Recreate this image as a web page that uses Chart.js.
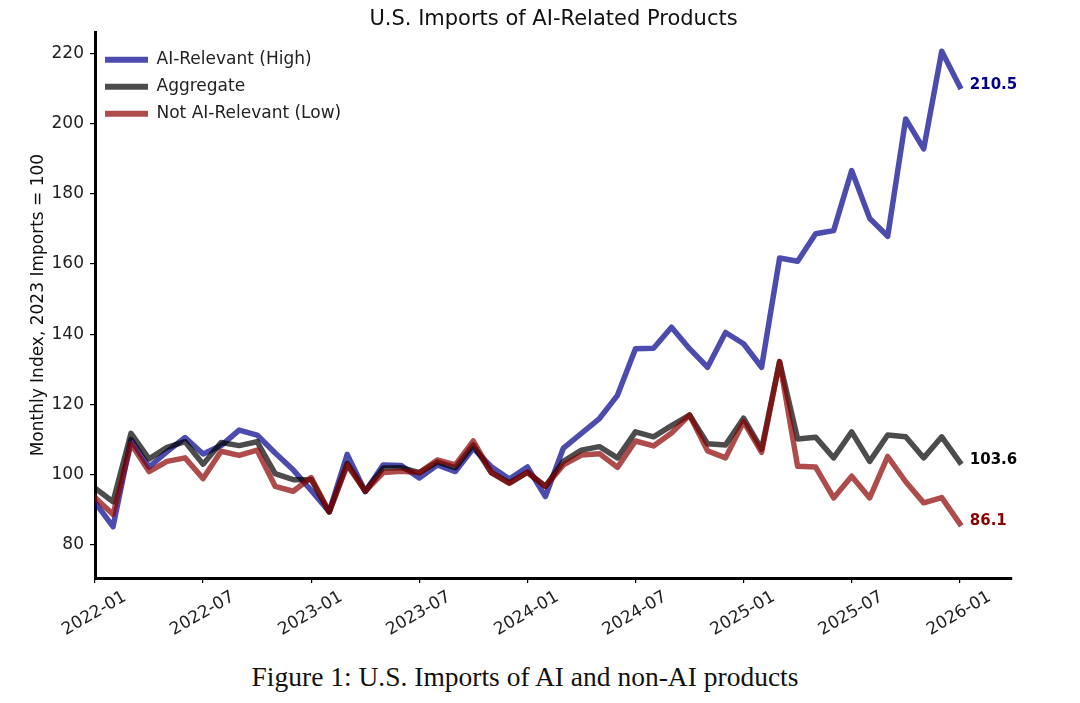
<!DOCTYPE html>
<html>
<head>
<meta charset="utf-8">
<title>U.S. Imports of AI-Related Products</title>
<script src="https://cdn.jsdelivr.net/npm/chart.js@4.4.1/dist/chart.umd.min.js"></script>
<style>
  html, body { margin: 0; padding: 0; background: #fff; }
  #wrap { position: relative; width: 1080px; height: 703px; overflow: hidden; }
  #chartBox { position: absolute; left: 0; top: 0; width: 1080px; height: 650px; }
  #caption {
    position: absolute; left: 0; top: 661px; width: 1050px;
    text-align: center; font-family: "Liberation Serif", serif;
    font-size: 27.5px; line-height: 32px; color: #111;
  }
</style>
</head>
<body>
<div id="wrap">
  <div id="chartBox"><canvas id="importsChart"></canvas></div>
  <div id="caption">Figure 1: U.S. Imports of AI and non-AI products</div>
</div>
<script>
// Monthly index, 2023 imports = 100
const months = [
    '2022-01', '2022-02', '2022-03', '2022-04', '2022-05', '2022-06', '2022-07', '2022-08', '2022-09', '2022-10', '2022-11', '2022-12',
    '2023-01', '2023-02', '2023-03', '2023-04', '2023-05', '2023-06', '2023-07', '2023-08', '2023-09', '2023-10', '2023-11', '2023-12',
    '2024-01', '2024-02', '2024-03', '2024-04', '2024-05', '2024-06', '2024-07', '2024-08', '2024-09', '2024-10', '2024-11', '2024-12',
    '2025-01', '2025-02', '2025-03', '2025-04', '2025-05', '2025-06', '2025-07', '2025-08', '2025-09', '2025-10', '2025-11', '2025-12',
    '2026-01'
];

const aiHigh = [
    92.1, 85.2, 110.0, 102.2, 106.6, 110.6, 105.9, 108.3, 112.7, 111.3, 106.2, 101.4,
    95.5, 89.5, 105.8, 95.2, 102.8, 102.6, 99.1, 102.8, 100.9, 107.5, 102.3, 98.8,
    102.2, 93.8, 107.6, 111.8, 116.0, 122.6, 135.9, 136.0, 142.0, 135.9, 130.6, 140.5,
    137.3, 130.6, 161.7, 160.8, 168.6, 169.5, 186.6, 173.0, 167.9, 201.3, 192.8, 220.6,
    210.5
];

const aggregate = [
    96.2, 92.3, 111.8, 104.5, 107.8, 109.4, 103.0, 109.2, 108.3, 109.4, 100.3, 98.6,
    98.6, 89.4, 103.2, 95.3, 101.9, 102.0, 100.6, 103.6, 102.0, 108.5, 100.6, 97.7,
    100.7, 96.7, 103.8, 107.0, 108.0, 104.8, 112.2, 110.8, 114.0, 117.0, 108.8, 108.5,
    116.1, 107.3, 132.2, 110.2, 110.7, 104.8, 112.2, 103.8, 111.3, 110.8, 104.8, 110.8,
    103.6
];

const notAiLow = [
    93.5, 88.7, 108.8, 100.9, 103.8, 104.8, 98.9, 106.7, 105.5, 107.0, 96.7, 95.3,
    99.2, 89.4, 102.8, 95.3, 100.6, 101.0, 100.6, 104.2, 102.8, 109.6, 100.6, 97.5,
    100.7, 96.7, 102.8, 105.6, 106.0, 102.1, 109.6, 108.2, 111.9, 117.0, 106.8, 104.8,
    115.1, 106.4, 132.2, 102.4, 102.2, 93.4, 99.6, 93.4, 105.2, 98.0, 92.0, 93.5,
    86.1
];

const tickLabels = ['2022-01', '2022-07', '2023-01', '2023-07', '2024-01', '2024-07', '2025-01', '2025-07', '2026-01'];
const yTicks = [80, 100, 120, 140, 160, 180, 200, 220];

function toPoints(values) {
    return values.map(function(v, i) { return { x: i, y: v }; });
}

// Value printed at the end of each line
const endLabels = {
    id: 'endLabels',
    afterDatasetsDraw: function(chart) {
        const ctx = chart.ctx;
        const x = chart.scales.x;
        const y = chart.scales.y;
        ctx.save();
        ctx.font = 'bold 15px "DejaVu Sans"';
        ctx.textAlign = 'left';
        ctx.textBaseline = 'middle';
        chart.data.datasets.forEach(function(ds) {
            const last = ds.data[ds.data.length - 1];
            ctx.fillStyle = ds.endColor;
            ctx.fillText(last.y.toFixed(1), x.getPixelForValue(last.x) + 10, y.getPixelForValue(last.y) - 2);
        });
        ctx.restore();
    }
};

const FONT = '"DejaVu Sans", sans-serif';

new Chart(document.getElementById('importsChart'), {
    type: 'line',
    data: {
        datasets: [{
            label: 'AI-Relevant (High)',
            data: toPoints(aiHigh),
            borderColor: 'rgba(0, 0, 139, 0.7)',
            backgroundColor: 'rgba(0, 0, 139, 0.7)',
            endColor: '#00008b',
            order: 3
        }, {
            label: 'Aggregate',
            data: toPoints(aggregate),
            borderColor: 'rgba(0, 0, 0, 0.7)',
            backgroundColor: 'rgba(0, 0, 0, 0.7)',
            endColor: '#000000',
            order: 2
        }, {
            label: 'Not AI-Relevant (Low)',
            data: toPoints(notAiLow),
            borderColor: 'rgba(139, 0, 0, 0.7)',
            backgroundColor: 'rgba(139, 0, 0, 0.7)',
            endColor: '#8b0000',
            order: 1
        }]
    },
    options: {
        responsive: true,
        maintainAspectRatio: false,
        animation: false,
        layout: { padding: { left: 0, right: 68, top: 0, bottom: 0 } },
        elements: {
            point: { radius: 0, hoverRadius: 0 },
            line: { borderWidth: 5.5, tension: 0, fill: false, borderJoinStyle: 'round', borderCapStyle: 'square' }
        },
        plugins: {
            title: {
                display: true,
                text: 'U.S. Imports of AI-Related Products',
                fullSize: false,
                color: '#111',
                font: { family: FONT, size: 21, weight: 'normal' },
                padding: { top: 7, bottom: 0 }
            },
            legend: {
                position: 'chartArea',
                align: 'start',
                title: { display: true, text: ' ', font: { size: 1 }, padding: { top: 40, bottom: 0 } },
                labels: {
                    boxWidth: 43,
                    boxHeight: 6,
                    padding: 10,
                    color: '#222',
                    font: { family: FONT, size: 17 },
                    sort: function(a, b) { return a.datasetIndex - b.datasetIndex; },
                    generateLabels: function(chart) {
                        return Chart.defaults.plugins.legend.labels.generateLabels(chart).map(function(item) {
                            item.lineWidth = 0;
                            return item;
                        });
                    }
                }
            },
            tooltip: { enabled: false }
        },
        scales: {
            x: {
                type: 'linear',
                min: 0,
                max: months.length - 1 + 2.9,
                afterBuildTicks: function(scale) {
                    scale.ticks = tickLabels.map(function(l) { return { value: months.indexOf(l) }; });
                },
                afterFit: function(scale) { scale.height = 72; },
                ticks: {
                    includeBounds: false,
                    minRotation: 30,
                    maxRotation: 30,
                    labelOffset: 30,
                    padding: 4,
                    color: '#222',
                    font: { family: FONT, size: 17 },
                    callback: function(value) { return months[value]; }
                },
                grid: { drawOnChartArea: false, drawTicks: true, tickLength: 5, color: '#000', lineWidth: 1.2 },
                border: { display: true, color: '#000', width: 3 }
            },
            y: {
                min: 70.6,
                max: 226,
                afterBuildTicks: function(scale) {
                    scale.ticks = yTicks.map(function(v) { return { value: v }; });
                },
                afterFit: function(scale) { scale.width = 95; },
                ticks: {
                    padding: 6,
                    color: '#222',
                    font: { family: FONT, size: 17 }
                },
                title: {
                    display: true,
                    text: 'Monthly Index, 2023 Imports = 100',
                    color: '#111',
                    font: { family: FONT, size: 17 },
                    padding: { top: 28, bottom: 0 }
                },
                grid: { drawOnChartArea: false, drawTicks: true, tickLength: 5, color: '#000', lineWidth: 1.2 },
                border: { display: true, color: '#000', width: 3 }
            }
        }
    },
    plugins: [endLabels]
});
</script>
</body>
</html>
